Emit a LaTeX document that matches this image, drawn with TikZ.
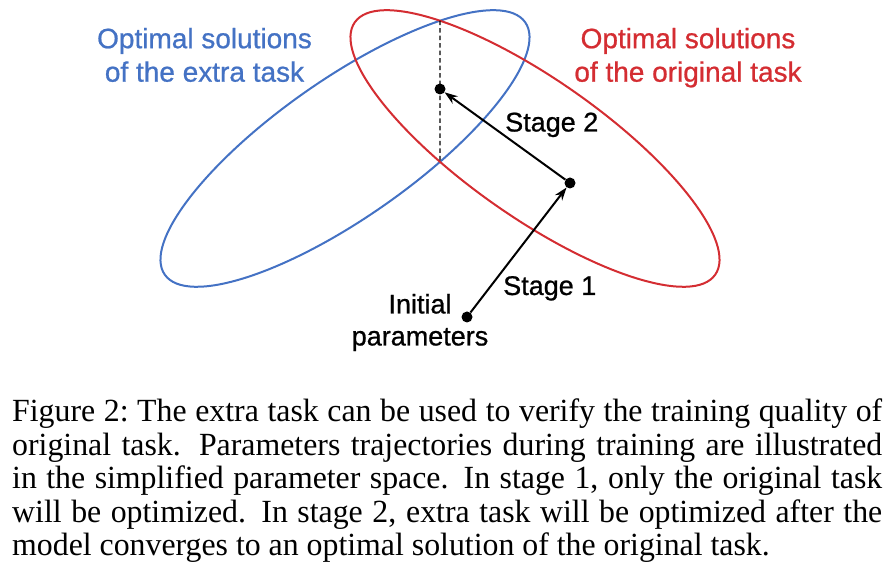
\documentclass[tikz,border=0pt]{standalone}
\usepackage{fontspec}
\setmainfont{Liberation Serif}
\setsansfont[FakeBold=0.8]{Liberation Sans}
\newfontfamily\captionfont[FakeStretch=0.985, WordSpace={1,1,2}]{Liberation Serif}
\usepackage{xcolor}
\usetikzlibrary{arrows.meta, intersections, positioning}
\definecolor{extrablue}{RGB}{68,114,196}
\definecolor{originalred}{RGB}{212,45,50}

\begin{document}
\begin{tikzpicture}[
        x=1pt, y=1pt,
        solset/.style={line width=2pt},
        param/.style={circle, fill=black, inner sep=0pt, minimum size=11pt},
        stagearrow/.style={-{Stealth[length=13pt, width=9pt]}, line width=2pt},
        tag/.style={inner sep=0pt, font=\sffamily\fontsize{27}{32}\selectfont},
        settag/.style={inner sep=0pt, anchor=north, align=center,
            font=\sffamily\fontsize{28}{33.5}\selectfont}
    ]
    \useasboundingbox (0,0) rectangle (886,572);
    \draw[solset, extrablue, name path=extra, rotate around={35:(345,423.5)}]
        (345,423.5) ellipse [x radius=220pt, y radius=69pt];
    \draw[solset, originalred, name path=original, rotate around={-35:(535,423.5)}]
        (535,423.5) ellipse [x radius=220pt, y radius=69pt];
    \path[name path=axis] (440,572) -- (440,330);
    \path[name intersections={of=extra and axis, by={axtop, axbot}}];
    \draw[line width=1.1pt, dash pattern=on 4.5pt off 3pt] (axtop) -- (axbot);

    \node[param] (finalpt) at (440,483) {};
    \node[param] (midpt) at (570,389) {};
    \node[param] (initpt) at (467,255) {};
    \draw[stagearrow] (initpt) -- (midpt);
    \draw[stagearrow] (midpt) -- (finalpt);

    \node[tag, anchor=base west] (stageone) at (503,277) {Stage 1};
    \node[tag, anchor=base west] (stagetwo) at (505,440.5) {Stage 2};
    \node[tag, anchor=north, align=center] (initlabel) at (420,278.3) {Initial\\parameters};
    \node[settag, extrablue] (extralabel) at (204.5,544.3) {Optimal solutions\\of the extra task};
    \node[settag, originalred] (originallabel) at (688,544.3) {Optimal solutions\\of the original task};

    \node[anchor=north west, inner sep=0pt, text width=870pt, align=justify,
        font={\captionfont\fontsize{32.3}{33.4}\selectfont}]
        (caption) at (12,173)
        {\hyphenpenalty=10000 Figure 2:\ The extra task can be used to verify the training quality of\linebreak
        original task. Parameters trajectories during training are illustrated\linebreak
        in the simplified parameter space. In stage 1, only the original task\linebreak
        will be optimized. In stage 2, extra task will be optimized after the\linebreak
        model converges to an optimal solution of the original task.};
\end{tikzpicture}
\end{document}
